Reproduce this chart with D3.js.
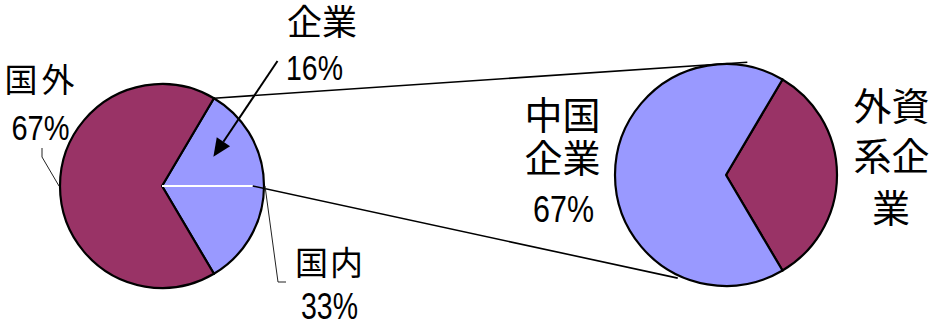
<!DOCTYPE html>
<html>
<head>
<meta charset="utf-8">
<script src="https://cdn.jsdelivr.net/npm/d3@7"></script>
<style>
  html, body { margin: 0; padding: 0; background: #fff; }
  svg { display: block; }
  .cjk { font-family: "Noto Sans CJK JP", "Noto Sans CJK SC", sans-serif; fill: #000; }
  .num { font-family: "Liberation Sans Narrow", "Liberation Sans", Arial, sans-serif; fill: #000; }
</style>
</head>
<body>
<svg id="chart" width="935" height="321"></svg>
<script>
// ---- data ----
const leftCategories = ["国内", "国外"];
const leftValues = [33, 67];
const subCategory = "企業";
const subValue = 16;
const rightCategories = ["外資系企業", "中国企業"];
const rightValues = [33, 67];
const leftLabels = ["国外", "67%"];
const subLabels = ["企業", "16%"];
const domesticLabels = ["国内", "33%"];
const rightLabelsA = ["中国", "企業", "67%"];
const rightLabelsB = ["外資", "系企", "業"];

const colDark = "#993366", colLight = "#9999FF";
const svg = d3.select("#chart");

const L = { cx: 162, cy: 186, r: 102 };
const R = { cx: 726, cy: 175, r: 111 };

function pt(c, ang, rad) { return [c.cx + Math.sin(ang) * rad, c.cy - Math.cos(ang) * rad]; }

// ---- left pie ----
const leftTotal = d3.sum(leftValues);
const lStart = Math.PI / 2 - Math.PI * leftValues[0] / leftTotal;
const leftPie = d3.pie().sort(null).startAngle(lStart).endAngle(lStart + 2 * Math.PI)(leftValues);
const arcL = d3.arc().innerRadius(0).outerRadius(L.r);
const gL = svg.append("g").attr("transform", `translate(${L.cx},${L.cy})`);
gL.selectAll("path").data(leftPie).join("path")
  .attr("d", arcL)
  .attr("fill", (d, i) => i === 0 ? colLight : colDark)
  .attr("stroke", "#000").attr("stroke-width", 2.2).attr("stroke-linejoin", "round");

// split of the domestic slice: 企業 part above, rest below
const splitA = lStart + (leftPie[0].endAngle - leftPie[0].startAngle) * (subValue / leftValues[0]);
const whiteAng = Math.PI / 2;
const whiteEnd = pt(L, whiteAng, L.r * 0.89);
svg.append("line")
  .attr("x1", L.cx).attr("y1", L.cy).attr("x2", whiteEnd[0]).attr("y2", whiteEnd[1])
  .attr("stroke", "#fff").attr("stroke-width", 2);

// ---- right pie ----
const rightTotal = d3.sum(rightValues);
const rStart = Math.PI / 2 - Math.PI * rightValues[0] / rightTotal;
const rightPie = d3.pie().sort(null).startAngle(rStart).endAngle(rStart + 2 * Math.PI)(rightValues);
const arcR = d3.arc().innerRadius(0).outerRadius(R.r);
const gR = svg.append("g").attr("transform", `translate(${R.cx},${R.cy})`);
gR.selectAll("path").data(rightPie).join("path")
  .attr("d", arcR)
  .attr("fill", (d, i) => i === 0 ? colDark : colLight)
  .attr("stroke", "#000").attr("stroke-width", 2.2).attr("stroke-linejoin", "round");

// ---- connector lines (tangents to the right pie) ----
function tangentLine(p, side, ext) {
  const dx = R.cx - p[0], dy = R.cy - p[1];
  const d = Math.hypot(dx, dy);
  const tl = Math.sqrt(d * d - R.r * R.r);
  const base = Math.atan2(dy, dx);
  const a = base + side * Math.asin(R.r / d);
  const len = tl * ext;
  return [p, [p[0] + Math.cos(a) * len, p[1] + Math.sin(a) * len]];
}
const topStart = pt(L, leftPie[0].startAngle, L.r);
const c1 = tangentLine(topStart, -1, 1.057);
const c2 = tangentLine(whiteEnd, 1, 0.945);
[c1, c2].forEach(seg => {
  svg.append("line")
    .attr("x1", seg[0][0]).attr("y1", seg[0][1]).attr("x2", seg[1][0]).attr("y2", seg[1][1])
    .attr("stroke", "#000").attr("stroke-width", 1.6);
});

// ---- labels ----
function cjk(txt, x, y, size, ls) {
  svg.append("text").attr("class", "cjk").attr("x", x).attr("y", y)
    .attr("text-anchor", "middle").attr("font-size", size)
    .attr("letter-spacing", ls || 0).text(txt);
}
function num(txt, x, y, size, len) {
  svg.append("text").attr("class", "num").attr("x", x).attr("y", y)
    .attr("text-anchor", "middle").attr("font-size", size)
    .attr("textLength", len).attr("lengthAdjust", "spacingAndGlyphs").text(txt);
}
cjk(subLabels[0], 322, 35, 35);
num(subLabels[1], 314.5, 80, 35, 57);
cjk(leftLabels[0], 41.5, 92, 33, 4);
num(leftLabels[1], 40.5, 140, 35, 58);
cjk(domesticLabels[0], 330, 275, 33, 2);
num(domesticLabels[1], 329.5, 319, 37, 57);
cjk(rightLabelsA[0], 562.5, 129, 38);
cjk(rightLabelsA[1], 562.5, 172, 38);
num(rightLabelsA[2], 563.5, 222, 37, 61);
cjk(rightLabelsB[0], 891.5, 120, 38);
cjk(rightLabelsB[1], 891.5, 170, 38);
cjk(rightLabelsB[2], 891, 222, 38);

// ---- arrow to the 企業 sub-slice ----
const subMid = (lStart + whiteAng) / 2;
const tip = pt(L, subMid, L.r * 0.58);
const aStart = [314.5 - 37, 80 - 19];
const ang = Math.atan2(tip[1] - aStart[1], tip[0] - aStart[0]);
const headLen = 18, headW = 8;
const base = [tip[0] - Math.cos(ang) * headLen, tip[1] - Math.sin(ang) * headLen];
svg.append("line")
  .attr("x1", aStart[0]).attr("y1", aStart[1]).attr("x2", base[0]).attr("y2", base[1])
  .attr("stroke", "#000").attr("stroke-width", 2);
svg.append("path")
  .attr("d", d3.line()([
    tip,
    [base[0] + Math.sin(ang) * headW, base[1] - Math.cos(ang) * headW],
    [base[0] - Math.sin(ang) * headW, base[1] + Math.cos(ang) * headW]
  ]) + "Z")
  .attr("fill", "#000");

// ---- leader lines ----
const westPt = pt(L, 3 * Math.PI / 2, L.r + 1);
svg.append("path")
  .attr("d", d3.line()([[42, 148], [42, 157], westPt]))
  .attr("fill", "none").attr("stroke", "#222").attr("stroke-width", 1);
const eastPt = pt(L, Math.PI / 2, L.r + 1);
svg.append("path")
  .attr("d", d3.line()([eastPt, [278, 282], [286, 282]]))
  .attr("fill", "none").attr("stroke", "#222").attr("stroke-width", 1);
</script>
</body>
</html>
